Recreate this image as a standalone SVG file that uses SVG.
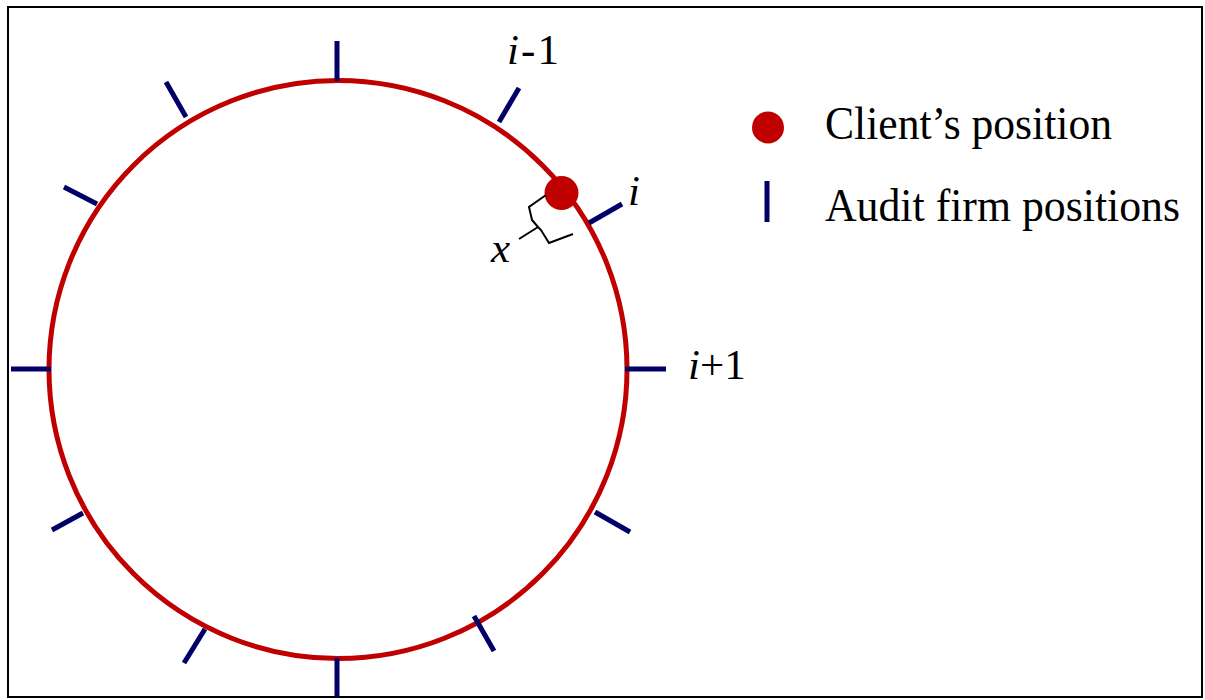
<svg xmlns="http://www.w3.org/2000/svg" width="1205" height="700" viewBox="0 0 1205 700">
  <style>
    .ring { fill: none; stroke: #C00000; stroke-width: 5; }
    .tick { stroke: #000066; stroke-width: 5; stroke-linecap: butt; }
    .dot { fill: #C00000; }
    .brace { fill: none; stroke: #000000; stroke-width: 2; stroke-linejoin: miter; }
    .lbl { font-family: "Liberation Serif", "Times New Roman", serif; font-size: 43px; fill: #000000; }
    .leg { font-family: "Liberation Serif", "Times New Roman", serif; font-size: 47px; fill: #000000; }
    .it { font-style: italic; }
  </style>

  <!-- frame -->
  <rect x="8" y="7" width="1194" height="690" fill="#FFFFFF" stroke="#000000" stroke-width="2"/>

  <!-- market circle -->
  <g id="ring">
    <circle class="ring" cx="338" cy="369.5" r="289"/>
  </g>

  <!-- audit firm positions around the circle -->
  <g id="firms">
    <line class="tick" x1="337" y1="41" x2="337" y2="81"/>
    <line class="tick" x1="499" y1="122" x2="519" y2="88"/>
    <line class="tick" x1="589" y1="223" x2="622" y2="204"/>
    <line class="tick" x1="625" y1="369" x2="666" y2="369"/>
    <line class="tick" x1="595" y1="512" x2="630" y2="532"/>
    <line class="tick" x1="474" y1="616" x2="494" y2="651"/>
    <line class="tick" x1="337" y1="658" x2="337" y2="697"/>
    <line class="tick" x1="205" y1="629" x2="184" y2="663"/>
    <line class="tick" x1="83" y1="513" x2="52" y2="530"/>
    <line class="tick" x1="51" y1="369" x2="11" y2="369"/>
    <line class="tick" x1="97" y1="204" x2="64" y2="187"/>
    <line class="tick" x1="186" y1="117" x2="166" y2="82"/>
  </g>

  <!-- client on the circle -->
  <g id="client">
    <circle class="dot" cx="561.5" cy="193" r="17"/>
  </g>

  <!-- distance brace between client and firm i -->
  <g id="connectors">
    <path class="brace" d="M546,195 L529,207 L532,220 L538,227 L541,230 L549,243 L573,234"/>
    <path class="brace" d="M538,227 L519,239"/>
  </g>

  <!-- labels -->
  <g id="labels">
    <text class="lbl" x="507" y="64" textLength="52" lengthAdjust="spacing"><tspan class="it">i</tspan>-1</text>
    <text class="lbl it" x="628" y="205">i</text>
    <text class="lbl" x="688" y="379"><tspan class="it">i</tspan>+1</text>
    <text class="lbl it" x="491" y="262">x</text>
  </g>

  <!-- legend -->
  <g id="legend">
    <circle class="dot" cx="768" cy="127.5" r="16"/>
    <text class="leg" x="825" y="139" textLength="287" lengthAdjust="spacingAndGlyphs">Client’s position</text>
    <line class="tick" x1="767" y1="181" x2="767" y2="222"/>
    <text class="leg" x="825" y="221" textLength="355" lengthAdjust="spacingAndGlyphs">Audit firm positions</text>
  </g>
</svg>
